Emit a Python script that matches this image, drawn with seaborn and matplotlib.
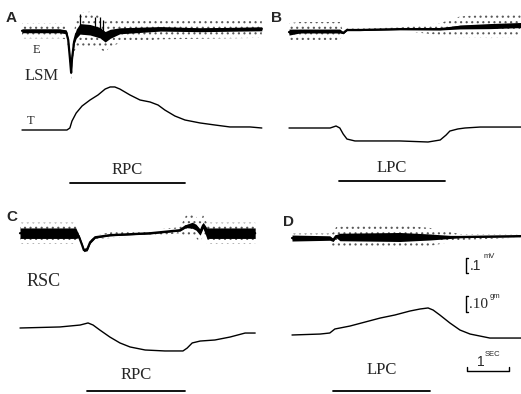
import numpy as np
import matplotlib
matplotlib.use("Agg")
import matplotlib.pyplot as plt
import seaborn as sns

sns.set_style("white")
plt.rcParams["hatch.linewidth"] = 0.8

# ---------------- data (time in s, tension in gm, EMG in mV) ----------------
# A: LSM, stimulation of right pressor cortex
a_emg_t = [0, 0.9, 1.05, 1.1, 1.14, 1.17, 1.19, 1.24, 1.29, 1.38, 1.62, 1.86, 1.98, 2.10, 2.33, 3.29, 4.24, 5.71]
a_emg = [0, 0, -0.007, -0.06, -0.18, -0.28, -0.19, -0.073, -0.02, 0.013, 0.007, -0.013, -0.04, -0.02, 0, 0.013, 0.007, 0.013]
a_emg_core = [0.013, 0.013, 0.013, 0.01, 0.01, 0.01, 0.01, 0.015, 0.03, 0.035, 0.035, 0.035, 0.035, 0.03, 0.02, 0.015, 0.013, 0.013]
a_emg_dots = [0.05, 0.05, 0.05, 0.05, 0.05, 0.05, 0.05, 0.07, 0.09, 0.11, 0.12, 0.11, 0.1, 0.09, 0.08, 0.07, 0.06, 0.06]
a_spike_t = [1.38, 1.74, 1.86, 1.93]
a_spike_h = [0.11, 0.09, 0.09, 0.07]
a_ten_t = [0, 1.07, 1.14, 1.19, 1.29, 1.43, 1.62, 1.81, 1.98, 2.1, 2.21, 2.33, 2.57, 2.81, 3.05, 3.24, 3.40, 3.64, 3.88, 4.24, 4.60, 4.95, 5.43, 5.71]
a_ten = [0, 0, 0.0125, 0.056, 0.106, 0.15, 0.1875, 0.219, 0.256, 0.269, 0.269, 0.256, 0.219, 0.1875, 0.175, 0.156, 0.125, 0.0875, 0.0625, 0.044, 0.031, 0.019, 0.019, 0.0125]
a_stim = (1.14, 3.88)

# B: LSM, stimulation of left pressor cortex
b_emg_t = [0, 0.26, 1.21, 1.29, 1.38, 1.69, 2.64, 3.60, 4.07, 4.79, 5.52]
b_emg = [-0.007, 0, 0, -0.013, 0.007, 0.007, 0.013, 0.013, 0.027, 0.033, 0.04]
b_emg_core = [0.02, 0.013, 0.013, 0.005, 0.004, 0.004, 0.004, 0.006, 0.013, 0.017, 0.017]
b_emg_dots = [0.06, 0.06, 0.06, 0.01, 0.01, 0.01, 0.01, 0.04, 0.07, 0.08, 0.08]
b_ten_t = [0, 0.98, 1.12, 1.21, 1.29, 1.38, 1.57, 2.64, 3.31, 3.60, 3.74, 3.83, 4.02, 4.19, 4.55, 5.52]
b_ten = [0, 0, 0.0125, 0, -0.0375, -0.069, -0.081, -0.081, -0.0875, -0.075, -0.044, -0.019, -0.006, 0, 0.006, 0.006]
b_stim = (1.19, 3.71)

# C: RSC, stimulation of right pressor cortex
c_emg_t = [0, 1.33, 1.40, 1.48, 1.52, 1.60, 1.67, 1.79, 2.14, 3.10, 3.81, 3.95, 4.10, 4.19, 4.29, 4.36, 4.45, 5.60]
c_emg = [0, 0, -0.02, -0.08, -0.113, -0.107, -0.06, -0.027, -0.013, 0, 0.02, 0.047, 0.053, 0.04, 0.007, 0.053, 0, 0]
c_emg_core = [0.035, 0.035, 0.01, 0.01, 0.01, 0.01, 0.008, 0.006, 0.005, 0.005, 0.006, 0.01, 0.02, 0.02, 0.02, 0.02, 0.035, 0.035]
c_emg_dots = [0.07, 0.07, 0.02, 0.01, 0.01, 0.01, 0.01, 0.01, 0.02, 0.02, 0.02, 0.07, 0.07, 0.07, 0.07, 0.07, 0.07, 0.07]
c_ten_t = [0, 0.95, 1.43, 1.62, 1.74, 1.90, 2.14, 2.38, 2.62, 2.98, 3.45, 3.88, 3.98, 4.10, 4.29, 4.64, 5.0, 5.36, 5.60]
c_ten = [-0.0125, -0.006, 0.006, 0.019, 0.006, -0.025, -0.069, -0.106, -0.131, -0.15, -0.156, -0.156, -0.138, -0.106, -0.094, -0.0875, -0.069, -0.044, -0.044]
c_stim = (1.6, 3.93)

# D: RSC, stimulation of left pressor cortex
d_emg_t = [0, 0.90, 0.98, 1.05, 1.14, 2.57, 3.29, 4.0, 5.45]
d_emg = [0, 0, -0.013, 0.013, 0.007, 0.007, 0.007, 0.007, 0.013]
d_emg_core = [0.02, 0.015, 0.01, 0.01, 0.025, 0.03, 0.02, 0.005, 0.004]
d_emg_dots = [0.03, 0.03, 0.05, 0.06, 0.07, 0.08, 0.06, 0.02, 0.01]
d_ten_t = [0, 0.67, 0.90, 1.02, 1.38, 1.74, 2.10, 2.45, 2.81, 3.05, 3.24, 3.36, 3.52, 3.76, 4.0, 4.24, 4.71, 5.45]
d_ten = [0, 0.006, 0.0125, 0.0375, 0.056, 0.081, 0.106, 0.125, 0.15, 0.1625, 0.169, 0.156, 0.125, 0.075, 0.031, 0.006, -0.019, -0.019]
d_stim = (0.98, 3.29)

# ---------------- layout ----------------
W, H = 521, 394
PX_S = 42.0     # px per second
PX_G = 160.0    # px per gm
MV = 150.0 / 160.0   # mV drawn in gm units

fig = plt.figure(figsize=(W / 100, H / 100), dpi=100)
serif = "Liberation Serif"
sans = "Liberation Sans"


def make_ax(box, origin):
    l, t, r, b = box
    x0, y0 = origin
    ax = fig.add_axes([l / W, 1 - b / H, (r - l) / W, (b - t) / H])
    ax.set_xlim((l - x0) / PX_S, (r - x0) / PX_S)
    ax.set_ylim((y0 - b) / PX_G, (y0 - t) / PX_G)
    ax.axis("off")
    return ax


def draw_emg(ax, t, v, core, dots, off):
    t = np.array(t)
    c = off + np.array(v) * MV
    core = np.array(core) * MV
    dots = np.array(dots) * MV
    ax.fill_between(t, c - dots, c + dots, facecolor="none", edgecolor="0.35",
                    hatch="...", linewidth=0)
    ax.fill_between(t, c - core, c + core, color="black", linewidth=0)
    sns.lineplot(x=t, y=c, ax=ax, color="black", lw=1.6, estimator=None)


def draw_tension(ax, t, v):
    sns.lineplot(x=t, y=v, ax=ax, color="black", lw=1.0, estimator=None)


def draw_stim(ax, stim, ybar, label, ylab):
    ax.plot(stim, [ybar, ybar], color="black", lw=1.3)
    ax.text(sum(stim) / 2, ylab, label, ha="center", va="center",
            family=serif, fontsize=12)


def ftext(x, y, s, **kw):
    fig.text(x / W, 1 - y / H, s, **kw)


# panel A
ax = make_ax((0, 0, 265, 197), (22, 130))
draw_emg(ax, a_emg_t, a_emg, a_emg_core, a_emg_dots, 0.62)
ax.vlines(a_spike_t, 0.62, 0.62 + np.array(a_spike_h) * MV, color="black", lw=0.9)
draw_tension(ax, a_ten_t, a_ten)
draw_stim(ax, a_stim, -0.33, "RPC", -0.25)

# panel B
ax = make_ax((265, 0, 521, 197), (289, 128))
draw_emg(ax, b_emg_t, b_emg, b_emg_core, b_emg_dots, 0.606)
draw_tension(ax, b_ten_t, b_ten)
draw_stim(ax, b_stim, -0.33, "LPC", -0.25)

# panel C
ax = make_ax((0, 197, 265, 394), (20, 326))
draw_emg(ax, c_emg_t, c_emg, c_emg_core, c_emg_dots, 0.58)
draw_tension(ax, c_ten_t, c_ten)
draw_stim(ax, c_stim, -0.405, "RPC", -0.305)

# panel D
ax = make_ax((265, 197, 521, 394), (292, 335))
draw_emg(ax, d_emg_t, d_emg, d_emg_core, d_emg_dots, 0.606)
draw_tension(ax, d_ten_t, d_ten)
draw_stim(ax, d_stim, -0.35, "LPC", -0.22)

# calibration bars (.1 mV, .10 gm, 1 sec)
xb = 4.14
ax.plot([xb + 0.06, xb, xb, xb + 0.06], [0.48, 0.48, 0.48 - 0.1 * MV, 0.48 - 0.1 * MV], color="black", lw=1.0)
ax.plot([xb + 0.06, xb, xb, xb + 0.06], [0.244, 0.244, 0.144, 0.144], color="black", lw=1.0)
ax.plot([4.17, 4.17, 5.17, 5.17], [-0.2, -0.225, -0.225, -0.2], color="black", lw=1.0)
ftext(470, 266, ".1", family=sans, fontsize=10, va="center")
ftext(484, 257, "mV", family=sans, fontsize=5.5, va="center")
ftext(469, 304, ".10", family=serif, fontsize=11, va="center")
ftext(490, 296, "gm", family=sans, fontsize=5.5, va="center")
ftext(477, 362, "1", family=sans, fontsize=10, va="center")
ftext(485, 355, "SEC", family=sans, fontsize=5.5, va="center")

# panel letters and trace labels
for x, y, s in [(11, 18, "A"), (277, 18, "B"), (12, 217, "C"), (289, 222, "D")]:
    ftext(x, y, s, family=sans, fontweight="bold", fontsize=11, ha="center", va="center")
ftext(36, 50, "E", family=serif, fontsize=9, ha="center", va="center")
ftext(25, 76, "LSM", family=serif, fontsize=12, va="center")
ftext(31, 121, "T", family=serif, fontsize=9, ha="center", va="center")
ftext(27, 281, "RSC", family=serif, fontsize=13, va="center")

fig.savefig("out.png", dpi=100)
